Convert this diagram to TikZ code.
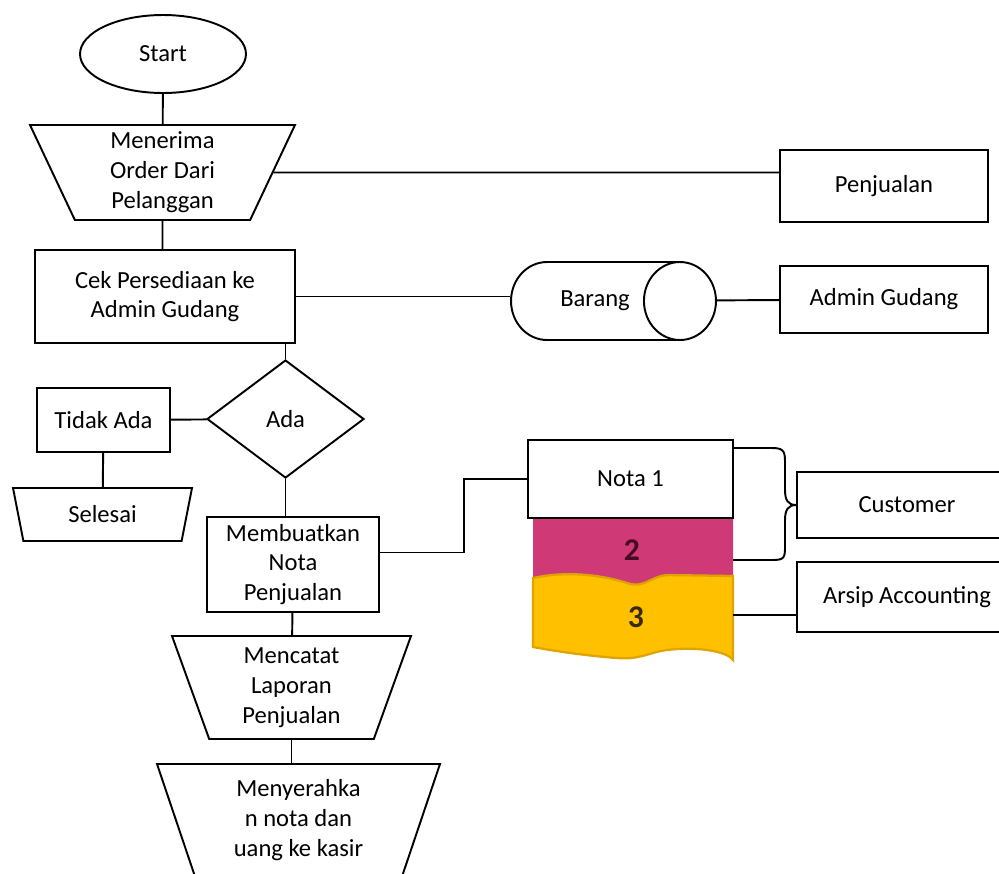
\documentclass[tikz,border=0pt]{standalone}
\usepackage{fontspec}
\setmainfont{Carlito}
\usetikzlibrary{shapes.geometric}
\definecolor{notamagenta}{RGB}{206,57,118}
\definecolor{notayellow}{RGB}{255,192,0}
\definecolor{notaedge}{RGB}{222,165,0}
\definecolor{digitmagenta}{RGB}{70,10,35}
\definecolor{digityellow}{RGB}{60,40,0}

\begin{document}
\begin{tikzpicture}[x=0.02cm, y=-0.02cm, line width=1.1pt,
	txt/.style={font=\fontsize{14}{17}\selectfont, align=center, inner sep=0pt},
	box/.style={txt, draw, rectangle},
	io/.style={txt, draw, trapezium, trapezium stretches body, shape border rotate=180},
	digit/.style={font=\fontsize{18}{20}\selectfont\bfseries, inner sep=0pt}]
	\useasboundingbox (0,0) rectangle (999,873);
	\clip (0,0) rectangle (999,873);
	
	% main flow
	\node[txt, draw, ellipse, minimum width=3.32cm, minimum height=1.56cm] (start) at (163,54) {Start};
	\node[io, minimum width=5.3cm, minimum height=1.9cm, trapezium angle=61] (order) at (162.5,172.5) {Menerima\\Order Dari\\Pelanggan};
	\node[box, minimum width=5.2cm, minimum height=1.86cm] (cek) at (165,296.5) {Cek Persediaan ke\\Admin Gudang};
	\node[txt, draw, diamond, minimum width=3.14cm, minimum height=2.36cm] (ada) at (285.5,419) {Ada};
	\node[box, minimum width=2.66cm, minimum height=1.28cm] (tidak) at (103.5,420) {Tidak Ada};
	\node[io, minimum width=3.58cm, minimum height=1.06cm, trapezium angle=59] (selesai) at (102.5,514.5) {Selesai};
	\node[box, minimum width=3.44cm, minimum height=1.9cm] (buat) at (293,564.5) {Membuatkan\\Nota\\Penjualan};
	\node[io, minimum width=4.78cm, minimum height=2.06cm, trapezium angle=65] (catat) at (291.5,687.5) {Mencatat\\Laporan\\Penjualan};
	\node[io, minimum width=5.66cm, minimum height=2.24cm, trapezium angle=65] (serah) at (298.5,820) {Menyerahka\\n nota dan\\uang ke kasir};
	
	% right side
	\node[box, minimum width=4.16cm, minimum height=1.44cm] (penj) at (884,186) {Penjualan};
	\node[txt, draw, cylinder, aspect=3.6, minimum width=1.56cm, minimum height=4.1cm] (barang) at (595,301) {Barang};
	\node[box, minimum width=4.16cm, minimum height=1.34cm] (admin) at (884,299.5) {Admin Gudang};
	\node[box, minimum width=4.4cm, minimum height=1.32cm] (cust) at (907,505) {Customer};
	\node[box, minimum width=4.4cm, minimum height=1.4cm] (arsip) at (907,597) {Arsip Accounting};
	
	% nota copies
	\fill[notamagenta] (533,518) -- (733,518) -- (733,585) .. controls (690,580) and (660,584) .. (630,590) .. controls (600,597) and (560,596) .. (533,588) -- cycle;
	\filldraw[fill=notayellow, draw=notaedge, line width=1.3pt] (533,578) .. controls (570,570) and (605,576) .. (627,583) .. controls (645,589) and (650,576) .. (668,575) -- (733,576) -- (733,660) .. controls (728,652) and (700,646) .. (667,650) .. controls (650,652) and (640,660) .. (617,658) .. controls (590,656) and (560,652) .. (533,647) -- cycle;
	\node[box, fill=white, minimum width=4.1cm, minimum height=1.56cm] (nota1) at (630.5,479) {Nota 1};
	\node[digit, text=digitmagenta] (n2) at (632,550) {2};
	\node[digit, text=digityellow] (n3) at (636,617) {3};
	\coordinate (n1r) at (733,448);
	\coordinate (n2r) at (733,560);
	\coordinate (n3r) at (733,615);
	
	% connectors
	\draw (start) -- (order);
	\draw (order) -- (order -| penj.west);
	\draw (order) -- (order |- cek.north);
	\draw (cek) -- (cek -| barang.west);
	\draw (barang) -- (admin);
	\draw (ada |- cek.south) -- (ada);
	\draw (ada) -- (tidak);
	\draw (tidak) -- (selesai);
	\draw (ada) -- (ada |- buat.north);
	\draw ([yshift=0.24cm]buat.east) -- ++(84,0) |- (nota1.west);
	\draw (buat) -- (catat);
	\draw (catat.south) -- (catat.south |- serah.north);
	\draw (n1r) -- (772,448) .. controls (785,448) and (785,452) .. (785,465) -- (785,490) .. controls (785,500) and (788,505) .. (cust.west) .. controls (788,505) and (785,510) .. (785,520) -- (785,547) .. controls (785,558) and (784,560) .. (772,560) -- (n2r);
	\draw (n3r) -- (n3r -| arsip.west);
	
\end{tikzpicture}
\end{document}
